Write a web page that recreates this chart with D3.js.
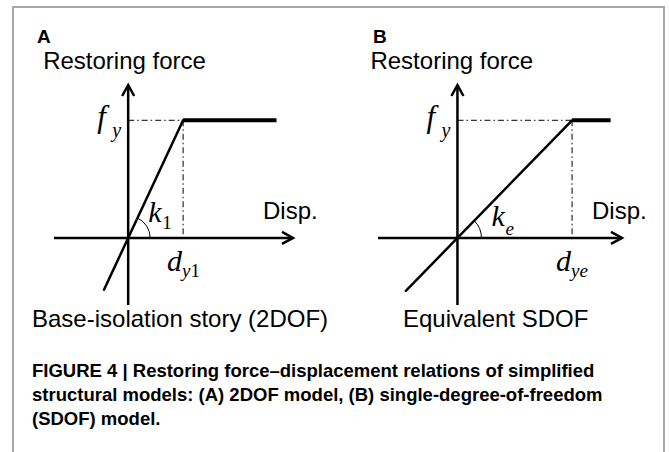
<!DOCTYPE html>
<html>
<head>
<meta charset="utf-8">
<script src="https://cdn.jsdelivr.net/npm/d3@7"></script>
<style>
  body { margin: 0; background: #fff; }
  text { font-family: "Liberation Sans", Arial, sans-serif; fill: #000; }
  .math { font-family: "Liberation Serif", "Times New Roman", serif; font-style: italic; }
</style>
</head>
<body>
<svg id="fig" width="669" height="452"></svg>
<script>
// values (arbitrary units: displacement / force normalised to f_y)
const panelIds = ["A", "B"]
const panelTitles = ["Base-isolation story (2DOF)", "Equivalent SDOF"]
const yieldDisp = [1.0, 2.02]
const yieldForce = [1.0, 1.0]
const plateauEnd = [2.7, 2.7]
const branchMinForce = [-0.44, -0.45]
const stiffSub = ["1", "e"]
const dispSub = ["y1", "ye"]
const dispDomain = [[-1.35, 3.0], [-1.4, 2.9]]
const forceDomain = [-0.57, 1.3]
const captionLines = [
  "FIGURE 4 | Restoring force\u2013displacement relations of simplified",
  "structural models: (A) 2DOF model, (B) single-degree-of-freedom",
  "(SDOF) model."
]

// no d3-selection-multi here, so a small stand-in for .attrs()
d3.selection.prototype.attrs = function(o) {
  for (let k in o) this.attr(k, o[k])
  return this
}

// layout
let width = 669,
    height = 452,
    panelRange = [[54, 293], [378, 622]],
    forceRange = [305, 85],
    kOffset = [[20, -16], [34, -12]],
    arcR = [22, 24]

let svg = d3.select("#fig")

svg.append("path")
  .attr("d", `M13,${height} V7 H664 V${height}`)
  .attrs({ fill: "none", stroke: "#a8a8a8", "stroke-width": 2 })

function arrow(g, x, y, dir) {
  let p = dir == "up"
    ? [[x - 6, y + 11], [x, y], [x + 6, y + 11]]
    : [[x - 11, y - 6], [x, y], [x - 11, y + 6]]
  g.append("path").attr("d", d3.line()(p))
    .attrs({ fill: "none", stroke: "#000", "stroke-width": 2.5 })
}

function drawPanel(i) {
  let x = d3.scaleLinear().domain(dispDomain[i]).range(panelRange[i]),
      y = d3.scaleLinear().domain(forceDomain).range(forceRange),
      g = svg.append("g"),
      x0 = x(0), y0 = y(0),
      xy = x(yieldDisp[i]), yy = y(yieldForce[i])

  // axes
  g.append("line").attrs({ x1: x.range()[0], x2: x.range()[1], y1: y0, y2: y0, stroke: "#000", "stroke-width": 2.5 })
  g.append("line").attrs({ x1: x0, x2: x0, y1: y.range()[0], y2: y.range()[1], stroke: "#000", "stroke-width": 2.5 })
  arrow(g, x.range()[1], y0, "right")
  arrow(g, x0, y.range()[1], "up")

  // dash-dot guides to yield point
  let guide = { fill: "none", stroke: "#000", "stroke-width": 1, "stroke-dasharray": "6,3,1.5,3" }
  g.append("path").attr("d", `M${x0},${yy} H${xy}`).attrs(guide)
  g.append("path").attr("d", `M${xy},${yy} V${y0}`).attrs(guide)

  // elastic branch and plateau
  let k = yieldForce[i] / yieldDisp[i],
      fmin = branchMinForce[i]
  g.append("path")
    .attr("d", d3.line().x(d => x(d[0])).y(d => y(d[1]))([[fmin / k, fmin], [yieldDisp[i], yieldForce[i]]]))
    .attrs({ fill: "none", stroke: "#000", "stroke-width": 2.5, "stroke-linecap": "round" })
  g.append("path")
    .attr("d", d3.line().x(d => x(d[0])).y(d => y(d[1]))([[yieldDisp[i], yieldForce[i]], [plateauEnd[i], yieldForce[i]]]))
    .attrs({ fill: "none", stroke: "#000", "stroke-width": 4 })

  // stiffness angle arc
  let theta = Math.atan2(y0 - yy, xy - x0),
      p = d3.path()
  p.arc(x0, y0, arcR[i], 0, -theta, true)
  g.append("path").attr("d", p.toString()).attrs({ fill: "none", stroke: "#000", "stroke-width": 1 })

  // texts
  g.append("text").text(panelIds[i])
    .attrs({ x: panelRange[i][0] - 17 + (i ? 12 : 0), y: 43, "font-size": 19, "font-weight": "bold" })
  g.append("text").text("Restoring force")
    .attrs({ x: x0 - 85 - (i ? 2 : 0), y: 69, "font-size": 24 })
  g.append("text").text("Disp.")
    .attrs({ x: x.range()[1] - 30, y: y0 - 19, "font-size": 24 })

  g.append("text").attr("class", "math").text("f")
    .attrs({ x: x0 - 31, y: yy + 7, "font-size": 31 })
  g.append("text").attr("class", "math").text("y")
    .attrs({ x: x0 - 16, y: yy + 17, "font-size": 20 })

  g.append("text").attr("class", "math").text("k")
    .attrs({ x: x0 + kOffset[i][0], y: y0 + kOffset[i][1], "font-size": 30 })
  g.append("text").attr("class", "math").text(stiffSub[i])
    .attrs({ x: x0 + kOffset[i][0] + 14, y: y0 + kOffset[i][1] + (i ? 9 : 7), "font-size": 19 })
    .style("font-style", i ? "italic" : "normal")

  g.append("text").attr("class", "math").text("d")
    .attrs({ x: xy - 16, y: y0 + 33, "font-size": 30 })
  g.append("text").attr("class", "math").text(dispSub[i][0])
    .attrs({ x: xy - 1, y: y0 + 39, "font-size": 19 })
    .append("tspan").text(dispSub[i][1])
    .style("font-style", dispSub[i][1] == "1" ? "normal" : "italic")

  g.append("text").text(panelTitles[i])
    .attrs({ x: i ? 403 : 32, y: 327, "font-size": 24 })
}

panelIds.forEach((d, i) => drawPanel(i))

svg.selectAll(".cap")
  .data(captionLines).enter()
  .append("text")
  .attr("class", "cap")
  .attrs({ x: 32, y: (d, i) => 377 + i * 24, "font-size": 18.5, "font-weight": "bold", fill: "#1a1a1a" })
  .text(d => d)
</script>
</body>
</html>
